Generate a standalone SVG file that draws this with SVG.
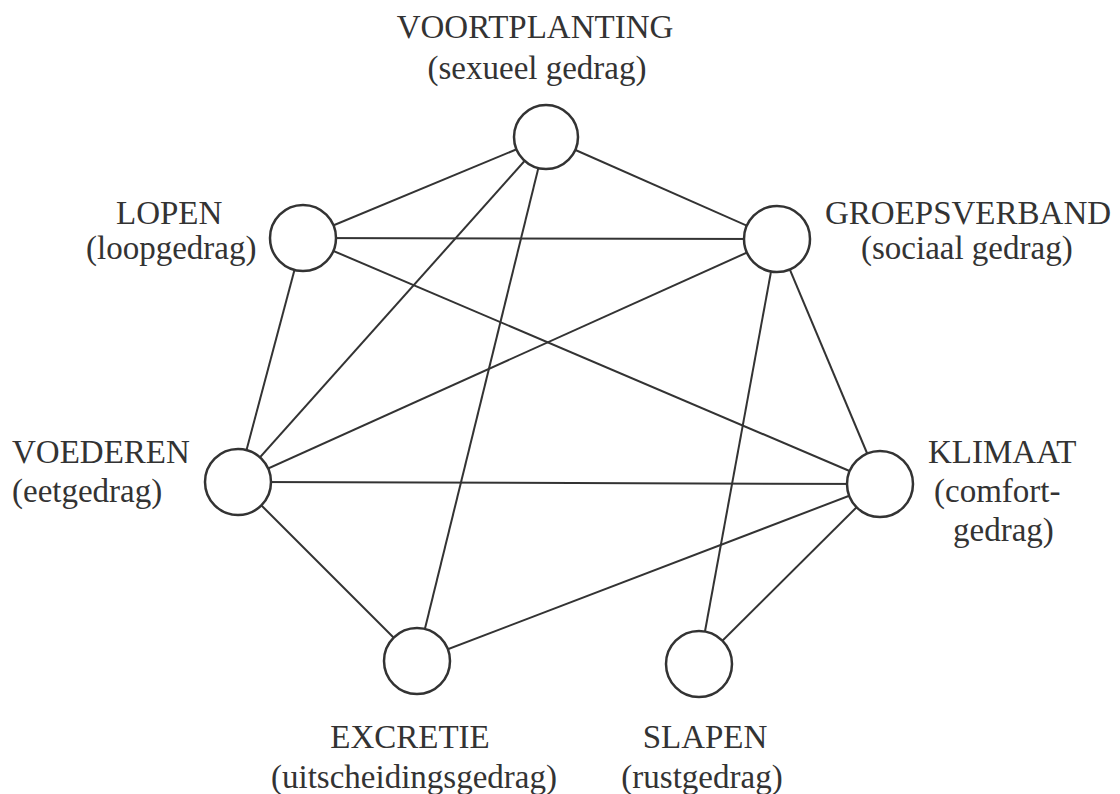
<svg xmlns="http://www.w3.org/2000/svg" width="1120" height="794" viewBox="0 0 1120 794">
<style>
.edge{stroke:#333;stroke-width:2;fill:none}
.node{fill:#fff;stroke:#333;stroke-width:2.5}
.lbl{font-family:"Liberation Serif","Times New Roman",serif;font-size:33px;fill:#333}
.mid{text-anchor:middle}
</style>
<rect width="1120" height="794" fill="#fff"/>
<g id="connectors">
<line class="edge" x1="546" y1="137" x2="777" y2="239"/>
<line class="edge" x1="546" y1="137" x2="303" y2="238"/>
<line class="edge" x1="546" y1="137" x2="238" y2="482"/>
<line class="edge" x1="546" y1="137" x2="417" y2="661"/>
<line class="edge" x1="303" y1="238" x2="777" y2="239"/>
<line class="edge" x1="303" y1="238" x2="880" y2="484"/>
<line class="edge" x1="303" y1="238" x2="238" y2="482"/>
<line class="edge" x1="777" y1="239" x2="238" y2="482"/>
<line class="edge" x1="777" y1="239" x2="880" y2="484"/>
<line class="edge" x1="777" y1="239" x2="699" y2="664"/>
<line class="edge" x1="238" y1="482" x2="880" y2="484"/>
<line class="edge" x1="238" y1="482" x2="417" y2="661"/>
<line class="edge" x1="417" y1="661" x2="880" y2="484"/>
<line class="edge" x1="880" y1="484" x2="699" y2="664"/>
</g>
<g id="voortplanting">
<circle class="node" cx="546" cy="137" r="32"/>
<text class="lbl mid" x="535" y="38">VOORTPLANTING</text>
<text class="lbl mid" x="537" y="79">(sexueel gedrag)</text>
</g>
<g id="lopen">
<circle class="node" cx="303" cy="238" r="33"/>
<text class="lbl" x="116" y="224">LOPEN</text>
<text class="lbl" x="86" y="259">(loopgedrag)</text>
</g>
<g id="groepsverband">
<circle class="node" cx="777" cy="239" r="33"/>
<text class="lbl" x="825" y="224">GROEPSVERBAND</text>
<text class="lbl" x="861" y="259">(sociaal gedrag)</text>
</g>
<g id="voederen">
<circle class="node" cx="238" cy="482" r="33"/>
<text class="lbl" x="12" y="463">VOEDEREN</text>
<text class="lbl" x="12" y="502">(eetgedrag)</text>
</g>
<g id="klimaat">
<circle class="node" cx="880" cy="484" r="33"/>
<text class="lbl" x="928" y="463">KLIMAAT</text>
<text class="lbl" x="934" y="502">(comfort-</text>
<text class="lbl" x="953" y="541">gedrag)</text>
</g>
<g id="excretie">
<circle class="node" cx="417" cy="661" r="33"/>
<text class="lbl mid" x="410" y="748">EXCRETIE</text>
<text class="lbl mid" x="414" y="788">(uitscheidingsgedrag)</text>
</g>
<g id="slapen">
<circle class="node" cx="699" cy="664" r="33"/>
<text class="lbl mid" x="705" y="748">SLAPEN</text>
<text class="lbl mid" x="702" y="788">(rustgedrag)</text>
</g>
</svg>
